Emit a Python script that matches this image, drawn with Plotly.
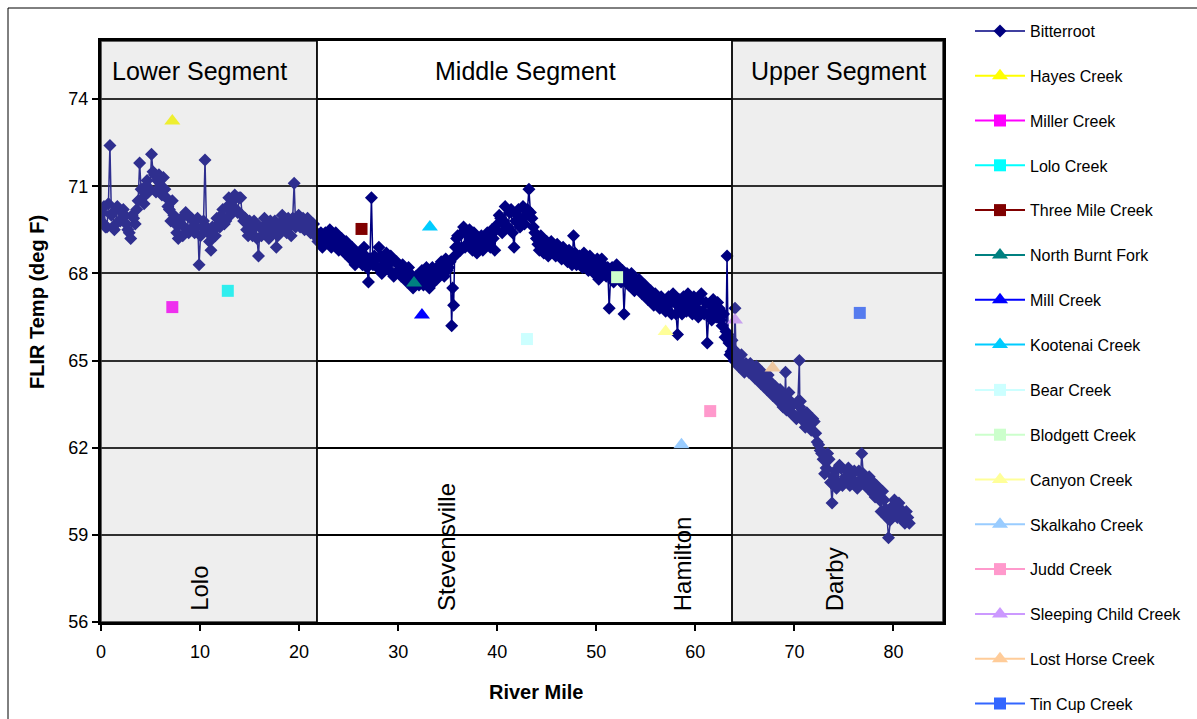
import plotly.graph_objects as go

# ---------------- data ----------------
# Bitterroot FLIR profile (two interleaved passes of readings)
bitterroot_mile_a = [
    0.0, 0.3, 0.6, 0.9, 1.2, 1.5, 1.8, 2.1, 2.4, 2.7, 3.0,
    3.3, 3.6, 3.9, 4.2, 4.5, 4.8, 5.1, 5.4, 5.7, 6.0,
    6.3, 6.6, 6.9, 7.2, 7.5, 7.8, 8.1, 8.4, 8.7, 9.0,
    9.3, 9.6, 9.9, 10.2, 10.5, 10.8, 11.1, 11.4, 11.7, 12.0,
    12.3, 12.6, 12.9, 13.2, 13.5, 13.8, 14.1, 14.4, 14.7, 15.0,
    15.3, 15.6, 15.9, 16.2, 16.5, 16.8, 17.1, 17.4, 17.7, 18.0,
    18.3, 18.6, 18.9, 19.2, 19.5, 19.8, 20.1, 20.4, 20.7, 21.0,
    21.3, 21.6, 21.9, 22.2, 22.5, 22.8, 23.1, 23.4, 23.7, 24.0,
    24.3, 24.6, 24.9, 25.2, 25.5, 25.8, 26.1, 26.4, 26.7, 27.0,
    27.3, 27.6, 27.9, 28.2, 28.5, 28.8, 29.1, 29.4, 29.7, 30.0,
    30.3, 30.6, 30.9, 31.2, 31.5, 31.8, 32.1, 32.4, 32.7, 33.0,
    33.3, 33.6, 33.9, 34.2, 34.5, 34.8, 35.1, 35.4, 35.6, 35.8,
    36.0, 36.3, 36.6, 36.9, 37.2, 37.5, 37.8, 38.1, 38.4, 38.7,
    39.0, 39.3, 39.6, 39.9, 40.2, 40.5, 40.8, 41.1, 41.4, 41.7,
    42.0, 42.3, 42.6, 42.9, 43.2, 43.5, 43.8, 44.1, 44.4, 44.7,
    45.0, 45.3, 45.6, 45.9, 46.2, 46.5, 46.8, 47.1, 47.4, 47.7,
    48.0, 48.3, 48.6, 48.9, 49.2, 49.5, 49.8, 50.1, 50.4, 50.7,
    51.0, 51.3, 51.6, 51.9, 52.2, 52.5, 52.8, 53.1, 53.4, 53.7,
    54.0, 54.3, 54.6, 54.9, 55.2, 55.5, 55.8, 56.1, 56.4, 56.7,
    57.0, 57.3, 57.6, 57.9, 58.2, 58.5, 58.8, 59.1, 59.4, 59.7,
    60.0, 60.3, 60.6, 60.9, 61.2, 61.5, 61.8, 62.1, 62.4, 62.7,
    63.0, 63.2, 63.4, 63.6, 63.8, 64.0, 64.2, 64.5, 64.8, 65.1,
    65.4, 65.7, 66.0, 66.3, 66.6, 66.9, 67.2, 67.5, 67.8, 68.1,
    68.4, 68.7, 69.0, 69.1, 69.3, 69.6, 69.9, 70.2, 70.5, 70.6,
    70.8, 71.1, 71.4, 71.7, 72.0, 72.3, 72.6, 72.9, 73.2, 73.5,
    73.8, 74.1, 74.4, 74.7, 75.0, 75.3, 75.6, 75.9, 76.2, 76.5,
    76.8, 77.1, 77.4, 77.7, 78.0, 78.3, 78.6, 78.9, 79.2, 79.5,
    79.8, 80.1, 80.4, 80.7, 81.0, 81.3, 81.6,
]
bitterroot_temp_a = [
    69.8, 70.3, 69.6, 72.4, 70.1, 69.7, 70.2, 69.9, 70.0, 69.5, 69.2,
    69.9, 70.2, 71.8, 70.6, 71.0, 70.8, 72.1, 71.4, 71.2, 71.0,
    71.3, 70.6, 70.2, 70.5, 69.7, 69.2, 69.9, 69.6, 70.0, 69.5,
    69.8, 69.6, 68.3, 69.6, 71.9, 69.4, 68.8, 69.5, 69.9, 69.6,
    70.2, 69.8, 70.6, 70.3, 70.7, 70.1, 70.6, 69.8, 69.5, 69.8,
    69.3, 69.6, 68.6, 69.3, 69.9, 69.5, 69.8, 69.4, 68.9, 69.7,
    70.0, 69.6, 69.9, 69.3, 71.1, 69.9, 69.6, 69.9, 69.7, 69.8,
    69.5, 69.3, 69.1, 69.4, 69.0, 69.3, 69.5, 69.1, 69.4, 68.8,
    69.2, 68.7, 68.9, 68.5, 68.8, 68.4, 68.7, 68.3, 68.6, 67.7,
    70.6, 68.6, 68.2, 68.6, 68.3, 68.7, 68.1, 68.5, 68.0, 68.3,
    67.9, 68.2, 67.7, 68.0, 67.5, 67.9, 67.6, 68.1, 67.7, 67.9,
    67.6, 68.1, 67.8, 68.3, 68.0, 68.5, 68.2, 66.2, 66.9, 68.9,
    69.3, 68.8, 69.6, 69.0, 69.5, 68.8, 69.2, 68.9, 69.3, 69.0,
    69.4, 68.9, 69.2, 69.5, 70.0, 69.4, 70.3, 69.6, 70.2, 68.9,
    70.0, 69.6, 70.3, 70.0, 70.9, 69.9, 69.4, 69.0, 69.3, 68.7,
    69.1, 68.8, 69.0, 68.6, 68.9, 68.5, 68.8, 68.4, 68.6, 69.3,
    68.3, 68.6, 68.2, 68.5, 68.1, 68.4, 68.0, 68.5, 68.1, 68.3,
    67.9, 66.8, 68.2, 67.8, 68.1, 67.7, 66.6, 68.0, 67.6, 67.9,
    67.5, 67.8, 67.3, 67.6, 67.1, 67.4, 66.9, 67.2, 66.8, 67.1,
    66.7, 67.2, 66.6, 67.0, 65.9, 66.8, 67.2, 66.7, 67.1, 66.6,
    67.0, 66.5, 67.3, 66.6, 65.6, 66.9, 67.1, 66.5, 66.8, 66.2,
    65.8, 68.6, 65.6, 65.3, 65.4, 66.8, 65.1, 65.0, 64.7, 64.9,
    64.6, 64.8, 64.4, 64.6, 64.2, 64.4, 64.0, 64.3, 63.8, 64.1,
    63.6, 63.9, 63.4, 64.6, 63.7, 63.2, 63.5, 63.0, 65.0, 63.6,
    63.2, 62.7, 63.1, 62.6, 62.9, 62.2, 61.9, 61.6, 61.3, 61.6,
    60.1, 61.2, 60.8, 61.3, 60.9, 61.2, 60.7, 61.1, 60.8, 61.2,
    61.8, 60.9, 60.6, 60.9, 60.4, 60.7, 60.2, 60.5, 59.9, 58.9,
    59.8, 60.2, 59.6, 59.9, 59.5, 59.8, 59.4,
]
bitterroot_mile_b = [
    0.15, 0.45, 0.75, 1.05, 1.35, 1.65, 1.95, 2.25, 2.55, 2.85, 3.15,
    3.45, 3.75, 4.05, 4.35, 4.65, 4.95, 5.25, 5.55, 5.85, 6.15,
    6.45, 6.75, 7.05, 7.35, 7.65, 7.95, 8.25, 8.55, 8.85, 9.15,
    9.45, 9.75, 10.05, 10.35, 10.65, 10.95, 11.25, 11.55, 11.85, 12.15,
    12.45, 12.75, 13.05, 13.35, 13.65, 13.95, 14.25, 14.55, 14.85, 15.15,
    15.45, 15.75, 16.05, 16.35, 16.65, 16.95, 17.25, 17.55, 17.85, 18.15,
    18.45, 18.75, 19.05, 19.35, 19.65, 19.95, 20.25, 20.55, 20.85, 21.15,
    21.45, 21.75, 22.05, 22.35, 22.65, 22.95, 23.25, 23.55, 23.85, 24.15,
    24.45, 24.75, 25.05, 25.35, 25.65, 25.95, 26.25, 26.55, 26.85, 27.15,
    27.45, 27.75, 28.05, 28.35, 28.65, 28.95, 29.25, 29.55, 29.85, 30.15,
    30.45, 30.75, 31.05, 31.35, 31.65, 31.95, 32.25, 32.55, 32.85, 33.15,
    33.45, 33.75, 34.05, 34.35, 34.65, 34.95, 35.25, 35.5, 35.7, 35.9,
    36.15, 36.45, 36.75, 37.05, 37.35, 37.65, 37.95, 38.25, 38.55, 38.85,
    39.15, 39.45, 39.75, 40.05, 40.35, 40.65, 40.95, 41.25, 41.55, 41.85,
    42.15, 42.45, 42.75, 43.05, 43.35, 43.65, 43.95, 44.25, 44.55, 44.85,
    45.15, 45.45, 45.75, 46.05, 46.35, 46.65, 46.95, 47.25, 47.55, 47.85,
    48.15, 48.45, 48.75, 49.05, 49.35, 49.65, 49.95, 50.25, 50.55, 50.85,
    51.15, 51.45, 51.75, 52.05, 52.35, 52.65, 52.95, 53.25, 53.55, 53.85,
    54.15, 54.45, 54.75, 55.05, 55.35, 55.65, 55.95, 56.25, 56.55, 56.85,
    57.15, 57.45, 57.75, 58.05, 58.35, 58.65, 58.95, 59.25, 59.55, 59.85,
    60.15, 60.45, 60.75, 61.05, 61.35, 61.65, 61.95, 62.25, 62.55, 62.85,
    63.1, 63.3, 63.5, 63.7, 63.9, 64.1, 64.35, 64.65, 64.95, 65.25,
    65.55, 65.85, 66.15, 66.45, 66.75, 67.05, 67.35, 67.65, 67.95, 68.25,
    68.55, 68.85, 69.05, 69.2, 69.45, 69.75, 70.05, 70.35, 70.55, 70.7,
    70.95, 71.25, 71.55, 71.85, 72.15, 72.45, 72.75, 73.05, 73.35, 73.65,
    73.95, 74.25, 74.55, 74.85, 75.15, 75.45, 75.75, 76.05, 76.35, 76.65,
    76.95, 77.25, 77.55, 77.85, 78.15, 78.45, 78.75, 79.05, 79.35, 79.65,
    79.95, 80.25, 80.55, 80.85, 81.15, 81.45,
]
bitterroot_temp_b = [
    70.1, 69.6, 70.4, 70.0, 69.5, 70.3, 69.8, 70.2, 69.7, 69.4, 70.0,
    69.7, 70.5, 70.9, 70.4, 71.2, 70.9, 71.5, 70.8, 71.4, 70.7,
    70.9, 70.3, 69.8, 70.0, 69.4, 69.7, 69.3, 70.1, 69.4, 69.9,
    69.4, 69.9, 69.3, 69.8, 69.6, 69.1, 69.6, 69.3, 69.7, 70.0,
    69.7, 70.3, 70.0, 70.5, 70.2, 70.6, 70.0, 69.9, 69.3, 69.5,
    69.8, 69.2, 69.6, 69.5, 69.7, 69.2, 69.6, 69.8, 69.3, 69.5,
    69.8, 69.4, 69.7, 69.9, 69.6, 70.0, 69.8, 69.5, 69.9, 69.4,
    69.7, 69.4, 69.2, 68.9, 69.4, 69.1, 68.9, 69.3, 68.9, 69.0,
    68.9, 69.1, 68.7, 68.9, 68.3, 68.6, 68.5, 68.9, 68.2, 68.5,
    68.3, 68.5, 68.9, 68.0, 68.4, 68.3, 68.6, 67.9, 68.4, 68.0,
    68.3, 67.8, 68.2, 67.7, 67.6, 67.8, 68.0, 67.6, 68.2, 67.5,
    68.2, 67.9, 68.0, 68.4, 67.9, 68.1, 68.4, 67.5, 68.6, 69.2,
    68.9, 69.4, 68.9, 69.3, 69.0, 69.4, 68.7, 69.1, 68.8, 69.2,
    69.1, 69.5, 68.8, 69.7, 69.9, 69.8, 69.6, 70.1, 69.4, 69.8,
    70.2, 69.8, 69.7, 70.2, 70.1, 69.6, 69.2, 68.8, 69.1, 68.9,
    68.6, 69.1, 68.7, 69.0, 68.6, 68.9, 68.5, 68.8, 68.3, 68.7,
    68.5, 68.3, 68.7, 68.3, 68.6, 68.2, 68.3, 67.8, 68.5, 68.0,
    68.2, 67.9, 67.7, 68.3, 67.9, 68.1, 67.8, 67.6, 68.0, 67.4,
    67.7, 67.6, 67.5, 67.3, 67.2, 67.0, 67.3, 66.9, 67.2, 66.8,
    66.9, 67.0, 67.3, 66.6, 67.1, 66.6, 66.9, 67.3, 66.8, 67.2,
    66.8, 67.1, 66.7, 67.0, 66.6, 66.4, 66.8, 67.0, 66.4, 66.6,
    66.0, 65.9, 65.2, 65.7, 65.0, 65.3, 64.8, 65.2, 64.6, 64.7,
    64.9, 64.5, 64.8, 64.3, 64.6, 64.1, 64.5, 64.2, 64.0, 63.7,
    64.0, 63.4, 63.8, 63.3, 63.9, 63.5, 63.1, 63.6, 63.4, 63.0,
    62.9, 63.2, 62.8, 63.0, 62.5, 62.1, 61.8, 61.1, 61.8, 60.8,
    61.0, 60.6, 61.4, 60.7, 61.0, 61.3, 60.8, 61.2, 60.6, 60.9,
    61.1, 60.7, 61.0, 60.6, 60.3, 60.6, 59.8, 60.2, 59.6, 59.5,
    60.0, 59.7, 60.1, 59.7, 59.4, 59.6,
]

creek_names = ["Hayes Creek", "Miller Creek", "Lolo Creek", "Three Mile Creek",
               "North Burnt Fork", "Mill Creek", "Kootenai Creek", "Bear Creek",
               "Blodgett Creek", "Canyon Creek", "Skalkaho Creek", "Judd Creek",
               "Sleeping Child Creek", "Lost Horse Creek", "Tin Cup Creek"]
creek_mile = [7.2, 7.2, 12.8, 26.3, 31.6, 32.4, 33.2, 43.0, 52.1, 57.0, 58.6, 61.5, 64.0, 67.8, 76.6]
creek_temp = [73.25, 66.84, 67.4, 69.53, 67.67, 66.57, 69.6, 65.74, 67.87, 66.0, 62.1, 63.26, 66.4, 64.74, 66.64]
creek_color = ["#FFFF00", "#FF00FF", "#00FFFF", "#800000", "#008080", "#0000FF", "#00CCFF",
               "#CCFFFF", "#CCFFCC", "#FFFF99", "#99CCFF", "#FF99CC", "#CC99FF", "#FFCC99", "#3366FF"]
creek_symbol = ["triangle-up", "square", "square", "square", "triangle-up", "triangle-up",
                "triangle-up", "square", "square", "triangle-up", "triangle-up", "square",
                "triangle-up", "triangle-up", "square"]

segment_names = ["Lower Segment", "Middle Segment", "Upper Segment"]
segment_start = [0.0, 21.8, 63.7]
segment_end = [21.8, 63.7, 85.0]
segment_label_mile = [9.9, 42.9, 74.4]
segment_shaded = [True, False, True]

town_names = ["Lolo", "Stevensville", "Hamilton", "Darby"]
town_mile = [10.0, 34.9, 58.7, 74.0]

y_ticks = [56, 59, 62, 65, 68, 71, 74]
x_ticks = [0, 10, 20, 30, 40, 50, 60, 70, 80]

FONT = "Liberation Sans, Arial, sans-serif"

# merge the two passes of readings in river-mile order
pairs = sorted(zip(bitterroot_mile_a + bitterroot_mile_b, bitterroot_temp_a + bitterroot_temp_b))
b_mile = [p[0] for p in pairs]
b_temp = [p[1] for p in pairs]

fig = go.Figure()

fig.add_trace(go.Scatter(
    x=b_mile, y=b_temp, name="Bitterroot",
    mode="lines+markers", legendgroup="g0", legend="legend",
    line=dict(color="#000080", width=1.5),
    marker=dict(symbol="diamond", size=10, color="#000080"),
))

for i, nm in enumerate(creek_names):
    fig.add_trace(go.Scatter(
        x=[creek_mile[i]], y=[creek_temp[i]], name=nm,
        mode="lines+markers", legendgroup="g%d" % (i + 1),
        legend="legend" if i < 7 else "legend2",
        line=dict(color=creek_color[i], width=2),
        marker=dict(symbol=creek_symbol[i], size=14 if creek_symbol[i] != "square" else 12,
                    color=creek_color[i]),
    ))

shapes = []
annotations = []
for i, nm in enumerate(segment_names):
    if segment_shaded[i]:
        shapes.append(dict(type="rect", xref="x", yref="y",
                           x0=segment_start[i], x1=segment_end[i], y0=56, y1=76,
                           fillcolor="rgba(186,186,186,0.25)",
                           line=dict(color="#333333", width=1.5), layer="above"))
    annotations.append(dict(x=segment_label_mile[i], y=74.98,
                            xref="x", yref="y", text=nm, showarrow=False,
                            xanchor="center", yanchor="middle",
                            font=dict(family=FONT, size=25, color="black")))
for b in [21.8, 63.7]:
    shapes.append(dict(type="line", xref="x", yref="y", x0=b, x1=b, y0=56, y1=76,
                       line=dict(color="black", width=1.5), layer="above"))

for i, nm in enumerate(town_names):
    annotations.append(dict(x=town_mile[i], y=56.3, xref="x", yref="y", text=nm,
                            textangle=-90, showarrow=False, yanchor="bottom",
                            font=dict(family=FONT, size=24, color="black")))

# axis titles (placed as in the reference)
annotations.append(dict(x=(536 - 101) / 842, y=(622 - 692) / 581, xref="paper", yref="paper",
                        text="<b>River Mile</b>", showarrow=False,
                        xanchor="center", yanchor="middle",
                        font=dict(family=FONT, size=20, color="black")))
annotations.append(dict(x=(37 - 101) / 842, y=(622 - 302) / 581, xref="paper", yref="paper",
                        text="<b>FLIR Temp (deg F)</b>", showarrow=False, textangle=-90,
                        xanchor="center", yanchor="middle",
                        font=dict(family=FONT, size=20, color="black")))

# outer chart-area border (top and left)
shapes.append(dict(type="line", xref="paper", yref="paper",
                   x0=(8 - 101) / 842, x1=(1210 - 101) / 842,
                   y0=(622 - 8) / 581, y1=(622 - 8) / 581,
                   line=dict(color="black", width=1)))
shapes.append(dict(type="line", xref="paper", yref="paper",
                   x0=(8 - 101) / 842, x1=(8 - 101) / 842,
                   y0=(622 - 8) / 581, y1=(622 - 730) / 581,
                   line=dict(color="black", width=1)))

legend_common = dict(x=(970 - 101) / 842, xanchor="left", yanchor="top",
                     font=dict(family=FONT, size=16, color="black"),
                     tracegroupgap=21, itemwidth=50, bgcolor="rgba(0,0,0,0)")

fig.update_layout(
    width=1197, height=719,
    margin=dict(l=101, r=254, t=41, b=97, autoexpand=False),
    paper_bgcolor="white", plot_bgcolor="white",
    font=dict(family=FONT, color="black"),
    showlegend=True,
    legend=dict(y=(622 - 14) / 581, **legend_common),
    legend2=dict(y=(622 - 373) / 581, **legend_common),
    shapes=shapes, annotations=annotations,
    xaxis=dict(range=[0, 85], tickvals=x_ticks, ticktext=[str(v) for v in x_ticks],
               showgrid=False, zeroline=False,
               showline=True, linecolor="black", linewidth=3, mirror=True,
               ticks="outside", ticklen=6, tickwidth=1.5, tickcolor="black",
               ticklabelstandoff=5,
               tickfont=dict(family=FONT, size=18)),
    yaxis=dict(range=[56, 76], tickvals=y_ticks, ticktext=[str(v) for v in y_ticks],
               showgrid=True, gridcolor="black", gridwidth=1.5, zeroline=False,
               showline=True, linecolor="black", linewidth=3, mirror=True,
               ticks="outside", ticklen=6, tickwidth=1.5, tickcolor="black",
               tickfont=dict(family=FONT, size=18)),
)

fig.write_html("out.html")
